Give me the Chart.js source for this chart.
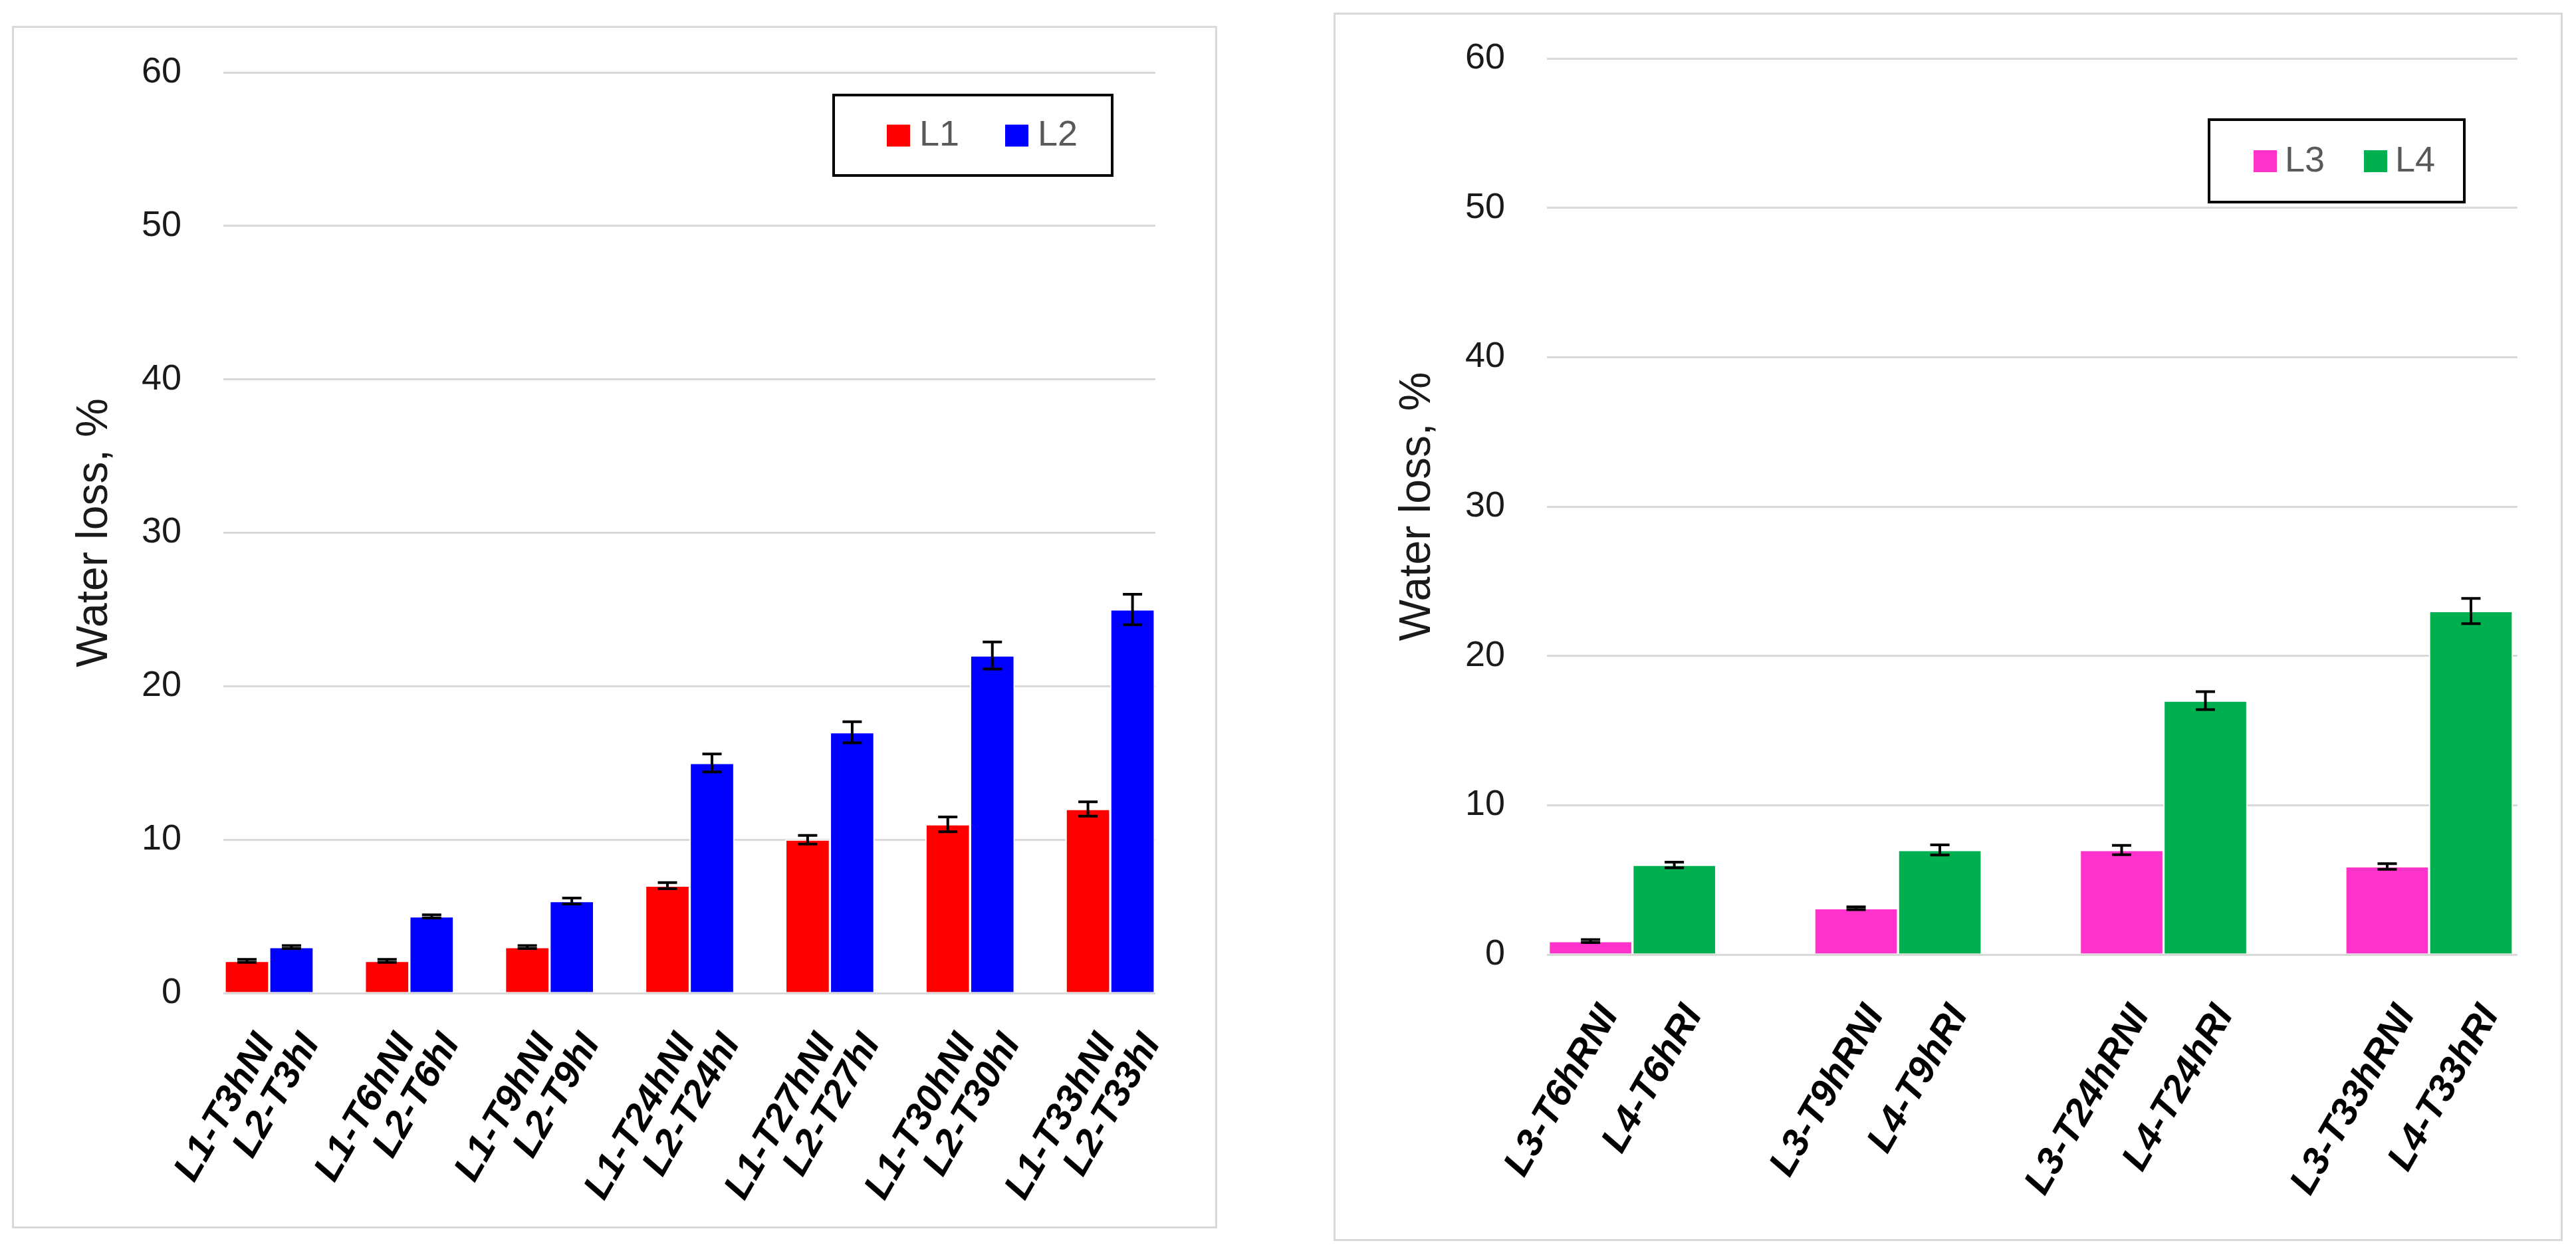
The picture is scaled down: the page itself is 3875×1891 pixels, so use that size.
<!DOCTYPE html>
<html>
<head>
<meta charset="utf-8">
<title>Water loss</title>
<script src="https://cdn.jsdelivr.net/npm/chart.js@4.4.1/dist/chart.umd.min.js"></script>
<style>
  html, body { margin: 0; padding: 0; background: #fff; }
  body { width: 3875px; height: 1891px; position: relative; overflow: hidden; }
  .panel { position: absolute; box-sizing: border-box; border: 3px solid #d9d9d9; background: #fff; }
  .panel canvas { display: block; }
  #panelA { left: 18px; top: 39px; width: 1813px; height: 1809px; }
  #panelB { left: 2006px; top: 19px; width: 1849px; height: 1848px; }
</style>
</head>
<body>
<div class="panel" id="panelA"><canvas id="chartA" width="1807" height="1803"></canvas></div>
<div class="panel" id="panelB"><canvas id="chartB" width="1843" height="1842"></canvas></div>
<script>
// ---- left chart: L1 / L2
const groupsA = [0, 1, 2, 3, 4, 5, 6];
const labelsL1 = ['L1-T3hNI', 'L1-T6hNI', 'L1-T9hNI', 'L1-T24hNI', 'L1-T27hNI', 'L1-T30hNI', 'L1-T33hNI'];
const labelsL2 = ['L2-T3hI', 'L2-T6hI', 'L2-T9hI', 'L2-T24hI', 'L2-T27hI', 'L2-T30hI', 'L2-T33hI'];
const valuesL1 = [2.1, 2.1, 3, 7, 10, 11, 12];
const errorsL1 = [0.1, 0.1, 0.1, 0.2, 0.28, 0.48, 0.47];
const valuesL2 = [3, 5, 6, 15, 17, 22, 25];
const errorsL2 = [0.1, 0.1, 0.2, 0.58, 0.69, 0.88, 0.99];

// ---- right chart: L3 / L4
const groupsB = [0, 1, 2, 3];
const labelsL3 = ['L3-T6hRNI', 'L3-T9hRNI', 'L3-T24hRNI', 'L3-T33hRNI'];
const labelsL4 = ['L4-T6hRI', 'L4-T9hRI', 'L4-T24hRI', 'L4-T33hRI'];
const valuesL3 = [0.9, 3.1, 7, 5.9];
const errorsL3 = [0.1, 0.09, 0.31, 0.19];
const valuesL4 = [6, 7, 17, 23];
const errorsL4 = [0.19, 0.34, 0.6, 0.85];

const yTicks = [0, 10, 20, 30, 40, 50, 60];

const FONT = "'Liberation Sans', Arial, sans-serif";
const LEGEND_FONT = "'Liberation Sans Narrow', 'Arial Narrow', 'Liberation Sans', sans-serif";

// whiskers drawn at each bar centre
const errorBars = {
	id: 'errorBars',
	afterDatasetsDraw(chart, args, opts) {
		const ctx = chart.ctx;
		const y = chart.scales.y;
		ctx.save();
		ctx.strokeStyle = '#000';
		ctx.lineWidth = opts.width;
		chart.data.datasets.forEach((ds, di) => {
			chart.getDatasetMeta(di).data.forEach((bar, i) => {
				const v = ds.data[i].y;
				const e = ds.errors[i];
				const top = y.getPixelForValue(v + e);
				const bot = y.getPixelForValue(v - e);
				const half = opts.cap / 2;
				ctx.beginPath();
				ctx.moveTo(bar.x, top); ctx.lineTo(bar.x, bot);
				ctx.moveTo(bar.x - half, top); ctx.lineTo(bar.x + half, top);
				ctx.moveTo(bar.x - half, bot); ctx.lineTo(bar.x + half, bot);
				ctx.stroke();
			});
		});
		ctx.restore();
	}
};

// framed legend inside the plot, Excel style
const boxLegend = {
	id: 'boxLegend',
	afterDraw(chart, args, o) {
		const {ctx, chartArea} = chart;
		const x0 = chartArea.right - o.right - o.width;
		const y0 = chartArea.top + o.top;
		const cy = y0 + o.height / 2;
		ctx.save();
		ctx.lineWidth = 4;
		ctx.strokeStyle = '#000';
		ctx.strokeRect(x0, y0, o.width, o.height);
		ctx.font = `54px ${LEGEND_FONT}`;
		ctx.textBaseline = 'middle';
		chart.data.datasets.forEach((ds, i) => {
			const sx = x0 + o.padLeft + i * o.step;
			ctx.fillStyle = ds.backgroundColor;
			ctx.fillRect(sx, cy - 16, 35, 33);
			ctx.fillStyle = '#595959';
			ctx.fillText(ds.label, sx + o.textGap, cy + 1);
		});
		ctx.restore();
	}
};

function makeChart(id, opts) {
	const tickPos = [];
	const tickLabels = [];
	opts.groups.forEach((g, i) => {
		tickPos.push(g - opts.barOffset, g + opts.barOffset);
		tickLabels.push(opts.labels[0][i], opts.labels[1][i]);
	});

	const datasets = opts.series.map(s => ({
		label: s.name,
		data: s.values.map((v, i) => ({x: opts.groups[i], y: v})),
		errors: s.errors,
		backgroundColor: s.color,
		borderColor: '#ffffff',
		borderWidth: 2,
		borderSkipped: 'start',
		barThickness: opts.barThickness,
	}));

	return new Chart(document.getElementById(id), {
		type: 'bar',
		data: {datasets},
		plugins: [errorBars, boxLegend],
		options: {
			responsive: false,
			animation: false,
			devicePixelRatio: 1,
			layout: {padding: {top: opts.padTop, right: opts.padRight, left: 0, bottom: 0}},
			scales: {
				x: {
					type: 'linear',
					offset: false,
					min: opts.xMin,
					max: opts.xMax,
					grid: {display: false, drawTicks: false, offset: false},
					border: {display: false},
					afterBuildTicks: scale => { scale.ticks = tickPos.map(v => ({value: v})); },
					afterFit: scale => { scale.height = opts.xAxisHeight; },
					ticks: {
						autoSkip: false,
						minRotation: 60,
						maxRotation: 60,
						padding: opts.labelPadding,
						labelOffset: 29,
						color: '#000',
						font: {family: FONT, size: 57, weight: 'bold', style: 'italic'},
						callback: (v, i) => tickLabels[i],
					},
				},
				y: {
					min: 0,
					max: 60,
					afterBuildTicks: scale => { scale.ticks = yTicks.map(v => ({value: v})); },
					afterFit: scale => {
						scale.width = opts.yAxisWidth;
						// the plot top is set by layout padding, not by the tick padding
						scale.paddingTop = 0;
						scale.paddingBottom = 0;
					},
					grid: {color: '#d9d9d9', lineWidth: 3, drawTicks: false},
					border: {display: false},
					ticks: {
						padding: 63,
						color: '#1a1a1a',
						font: {family: FONT, size: 54},
					},
					title: {
						display: true,
						text: 'Water loss, %',
						color: '#1a1a1a',
						font: {family: FONT, size: 66},
						padding: {top: opts.titlePad, bottom: 0},
					},
				},
			},
			plugins: {
				legend: {display: false},
				tooltip: {enabled: false},
				errorBars: {width: 4, cap: 29},
				boxLegend: opts.legend,
			},
		},
	});
}

makeChart('chartA', {
	groups: groupsA,
	labels: [labelsL1, labelsL2],
	series: [
		{name: 'L1', values: valuesL1, errors: errorsL1, color: '#ff0000'},
		{name: 'L2', values: valuesL2, errors: errorsL2, color: '#0000ff'},
	],
	xMin: -0.327,
	xMax: 6.322,
	barThickness: 67,
	barOffset: 0.159,
	padTop: 67,
	padRight: 90,
	yAxisWidth: 315,
	xAxisHeight: 351,
	labelPadding: 50,
	titlePad: 82,
	legend: {right: 65, top: 34, width: 419, height: 121, padLeft: 80, step: 178, textGap: 49},
});

makeChart('chartB', {
	groups: groupsB,
	labels: [labelsL3, labelsL4],
	series: [
		{name: 'L3', values: valuesL3, errors: errorsL3, color: '#ff33cc'},
		{name: 'L4', values: valuesL4, errors: errorsL4, color: '#00b050'},
	],
	xMin: -0.322,
	xMax: 3.333,
	barThickness: 126,
	barOffset: 0.158,
	padTop: 66,
	padRight: 65,
	yAxisWidth: 318,
	xAxisHeight: 428,
	labelPadding: 65,
	titlePad: 84,
	legend: {right: 80, top: 92, width: 384, height: 124, padLeft: 67, step: 166, textGap: 47},
});
</script>
</body>
</html>
